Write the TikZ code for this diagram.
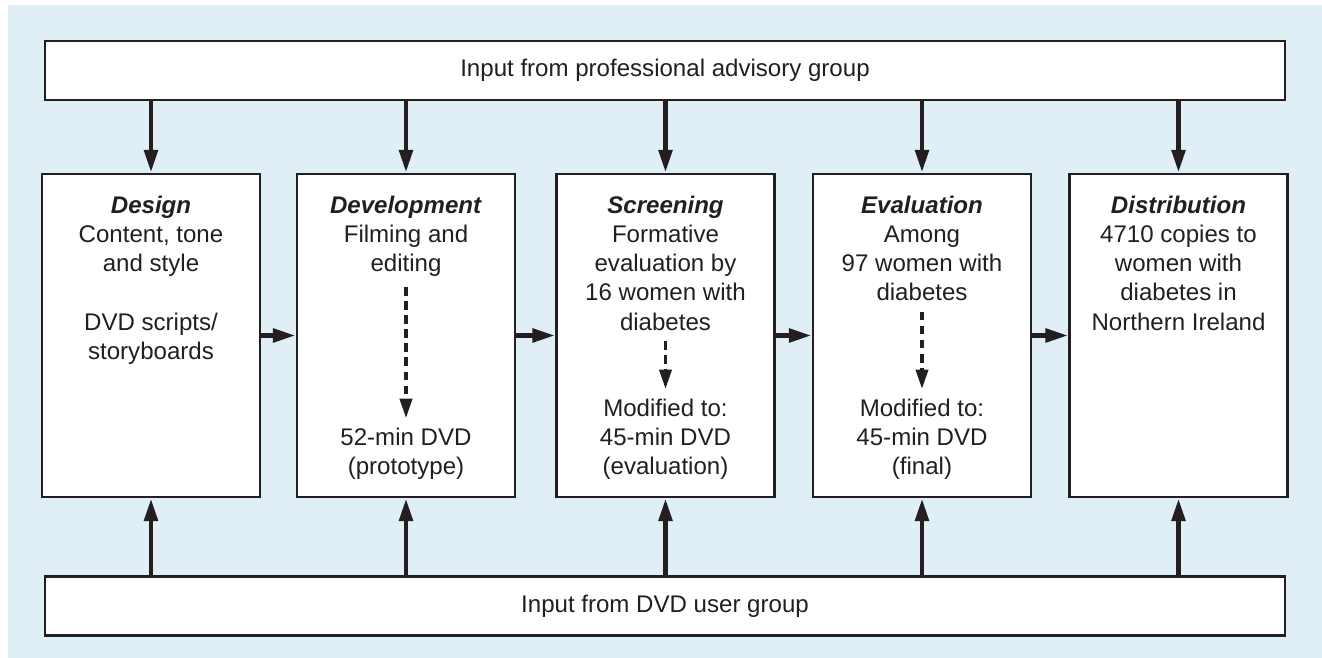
\documentclass[tikz,border=0pt]{standalone}
\usepackage{fontspec}
\setmainfont{Liberation Sans}
\usetikzlibrary{arrows.meta,positioning}
\definecolor{panelblue}{RGB}{224,238,246}
\definecolor{ink}{RGB}{35,31,32}

\begin{document}
\begin{tikzpicture}[x=0.02cm,y=-0.02cm,
  >={Triangle[length=13pt,width=7.5pt]},
  font=\fontsize{13.7}{16.6}\selectfont,
  stage/.style={draw=ink,line width=1.5pt,fill=white,minimum width=4.36cm,minimum height=6.46cm,inner sep=0pt},
  band/.style={draw=ink,line width=1.5pt,fill=white,minimum width=24.8cm,minimum height=1.18cm,text=ink},
  txt/.style={align=center,inner sep=0pt,text=ink},
  flow/.style={->,ink,line width=2.8pt},
  sub/.style={-{Triangle[length=11pt,width=7pt]},ink,line width=1.8pt,dash pattern=on 5pt off 3pt,shorten <=0.2cm,shorten >=0.2cm}]
\useasboundingbox (0,0) rectangle (1322,658);
\fill[panelblue] (8,5) rectangle (1322,658);

% input groups
\node[band] (adv) at (665,70.5) {Input from professional advisory group};
\node[band] (usr) at (665,606) {Input from DVD user group};

% the five stages
\node[stage] (des) at (151,335.5) {};
\node[stage] (dev) at (406,335.5) {};
\node[stage] (scr) at (665.5,335.5) {};
\node[stage] (eva) at (922,335.5) {};
\node[stage] (dis) at (1178.5,335.5) {};

\node[txt,anchor=north] (desT) at ([yshift=-0.46cm]des.north) {\textbf{\textit{Design}}\\Content, tone\\and style\\[16.6pt]DVD scripts/\\storyboards};
\node[txt,anchor=north] (devT) at ([yshift=-0.46cm]dev.north) {\textbf{\textit{Development}}\\Filming and\\editing};
\node[txt,anchor=north] (scrT) at ([yshift=-0.46cm]scr.north) {\textbf{\textit{Screening}}\\Formative\\evaluation by\\16 women with\\diabetes};
\node[txt,anchor=north] (evaT) at ([yshift=-0.46cm]eva.north) {\textbf{\textit{Evaluation}}\\Among\\97 women with\\diabetes};
\node[txt,anchor=north] (disT) at ([yshift=-0.46cm]dis.north) {\textbf{\textit{Distribution}}\\4710 copies to\\women with\\diabetes in\\Northern Ireland};

\node[txt,anchor=south] (devB) at ([yshift=0.36cm]dev.south) {52-min DVD\\(prototype)};
\node[txt,anchor=south] (scrB) at ([yshift=0.36cm]scr.south) {Modified to:\\45-min DVD\\(evaluation)};
\node[txt,anchor=south] (evaB) at ([yshift=0.36cm]eva.south) {Modified to:\\45-min DVD\\(final)};

% versions of the DVD
\draw[sub] (devT) -- (devB);
\draw[sub] (scrT) -- (scrB);
\draw[sub] (evaT) -- (evaB);

% stage to stage
\draw[flow] (des.east) -- (dev.west);
\draw[flow] (dev.east) -- (scr.west);
\draw[flow] (scr.east) -- (eva.west);
\draw[flow] (eva.east) -- (dis.west);

% input from the groups
\foreach \s in {des,dev,scr,eva,dis}{
  \draw[flow] (adv.south -| \s.north) -- (\s.north);
  \draw[flow] (usr.north -| \s.south) -- (\s.south);
}
\end{tikzpicture}
\end{document}
